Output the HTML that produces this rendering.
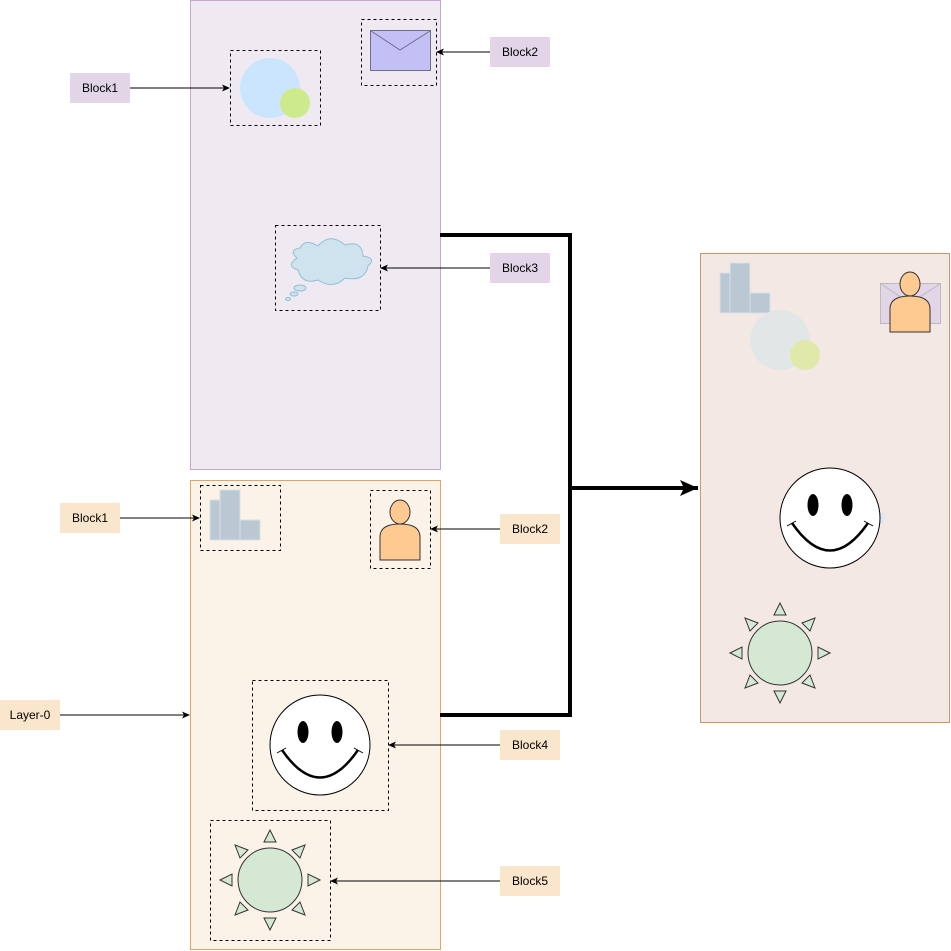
<!DOCTYPE html><html><head><style>body{margin:0;background:#fff}svg{display:block}text{font-family:"Liberation Sans",sans-serif;font-size:12px}</style></head><body>
<svg width="951" height="951" viewBox="0 0 951 951" xmlns="http://www.w3.org/2000/svg">
<defs>
<marker id="a" markerWidth="8" markerHeight="8" refX="7" refY="4" orient="auto" markerUnits="userSpaceOnUse"><path d="M0,0.5 L8,4 L0,7.5 L2,4Z" fill="#000"/></marker>
<marker id="b" markerWidth="20" markerHeight="20" refX="18" refY="10" orient="auto" markerUnits="userSpaceOnUse"><path d="M0,2 L18,10 L0,18 L4,10Z" fill="#000"/></marker>
<g id="smile"><circle r="50" fill="#fff" stroke="#000"/><ellipse cx="-17" cy="-13" rx="5.5" ry="11" fill="#000"/><ellipse cx="17" cy="-13" rx="5.5" ry="11" fill="#000"/><path d="M-38,5 Q0,60 38,5" fill="none" stroke="#000" stroke-width="2.5"/><path d="M-43,8 L-34,3 M43,8 L34,3" stroke="#000"/></g>
<g id="sun" fill="#d5e8d4" stroke="#333" stroke-width="1"><circle r="32"/>
<path d="M0,-50 L-6,-38 L6,-38Z"/><path d="M0,50 L-6,38 L6,38Z"/><path d="M-50,0 L-38,-6 L-38,6Z"/><path d="M50,0 L38,-6 L38,6Z"/>
<path d="M-35,-35 L-30,-22 L-22,-30Z"/><path d="M35,-35 L30,-22 L22,-30Z"/><path d="M-35,35 L-30,22 L-22,30Z"/><path d="M35,35 L30,22 L22,30Z"/></g>
<g id="person"><ellipse cx="0" cy="-13" rx="10" ry="12" fill="#ffc992" stroke="#333"/><path d="M-20,35 L-20,12 Q-20,-1 0,-1 Q20,-1 20,12 L20,35Z" fill="#ffc992" stroke="#333"/></g>
</defs>
<rect x="190.5" y="0.5" width="250" height="469" fill="#efe9f2" stroke="#c8a6d3"/>
<rect x="190.5" y="480.5" width="250" height="469" fill="#fcf3e8" stroke="#dba864"/>
<rect x="700.5" y="253.5" width="249" height="469" fill="#f3e8e3" stroke="#c9986a"/>
<g fill="none" stroke="#000" stroke-dasharray="3,3">
<rect x="230.5" y="50.5" width="90" height="75"/><rect x="361.5" y="19.5" width="75" height="66"/><rect x="275.5" y="225.5" width="105" height="85"/>
<rect x="200.5" y="485.5" width="80" height="65"/><rect x="370.5" y="490.5" width="60" height="78"/><rect x="252.5" y="680.5" width="136" height="130"/><rect x="210.5" y="820.5" width="120" height="120"/></g>
<circle cx="270" cy="88" r="30" fill="#cce5ff"/><circle cx="295" cy="103" r="15" fill="#cdeb8b"/>
<rect x="370.5" y="30.5" width="60" height="40" fill="#c3c0f5" stroke="#736d8c"/><path d="M371,31 L400,50 L430,31" fill="none" stroke="#736d8c"/>
<g fill="#cfe3ef" stroke="#93bfd6"><path d="M297,258 Q288,250 300,248 Q305,238 318,246 Q330,232 345,245 Q362,240 363,256 Q377,258 368,266 Q365,282 345,278 Q333,290 318,280 Q302,285 298,270 Q285,266 297,258Z"/><ellipse cx="300" cy="288" rx="6" ry="3"/><ellipse cx="294" cy="294" rx="4" ry="2"/><ellipse cx="288" cy="299" rx="2.5" ry="1.5"/></g>
<g fill="#bac8d3" stroke="#d8e0e6"><rect x="210" y="500" width="10" height="40"/><rect x="220" y="490" width="20" height="50"/><rect x="240" y="520" width="20" height="20"/></g>
<use href="#person" x="400" y="525"/>
<use href="#smile" x="320" y="745"/><use href="#sun" x="270" y="880"/>
<g fill="#bac8d3" stroke="#d8e0e6"><rect x="720" y="273" width="10" height="40"/><rect x="730" y="263" width="20" height="50"/><rect x="750" y="293" width="20" height="20"/></g>
<circle cx="780" cy="340" r="30" fill="#e1e7e7"/><circle cx="805" cy="355" r="15" fill="#e0e8aa"/>
<rect x="880.5" y="283.5" width="60" height="40" fill="#e1d5e7" stroke="#bbb"/><path d="M881,284 L910,303 L940,284" fill="none" stroke="#bbb"/>
<use href="#person" x="910" y="297"/>
<ellipse cx="880" cy="518" rx="5" ry="6" fill="#dde9ee"/>
<use href="#smile" x="830" y="518"/><use href="#sun" x="780" y="653"/>
<path d="M440,715 H570 V488" fill="none" stroke="#000" stroke-width="4"/>
<path d="M440,235 H570 V488 H698" fill="none" stroke="#000" stroke-width="4" marker-end="url(#b)"/>
<g stroke="#000" fill="none" marker-end="url(#a)">
<path d="M130,88 H229"/><path d="M490,52 H437"/><path d="M490,268 H381"/>
<path d="M120,518 H199"/><path d="M500,529 H431"/><path d="M60,715 H189"/><path d="M500,745 H389"/><path d="M500,881 H331"/></g>
<g fill="#e1d5e7"><rect x="70" y="73" width="60" height="30"/><rect x="490" y="37" width="60" height="30"/><rect x="490" y="253" width="60" height="30"/></g>
<g fill="#fae6cc"><rect x="60" y="503" width="60" height="30"/><rect x="500" y="514" width="60" height="30"/><rect x="0" y="700" width="60" height="30"/><rect x="500" y="730" width="60" height="30"/><rect x="500" y="866" width="60" height="30"/></g>
<g text-anchor="middle"><text x="100" y="92">Block1</text><text x="520" y="56">Block2</text><text x="520" y="272">Block3</text>
<text x="90" y="522">Block1</text><text x="530" y="533">Block2</text><text x="30" y="719">Layer-0</text><text x="530" y="749">Block4</text><text x="530" y="885">Block5</text></g>
</svg></body></html>
